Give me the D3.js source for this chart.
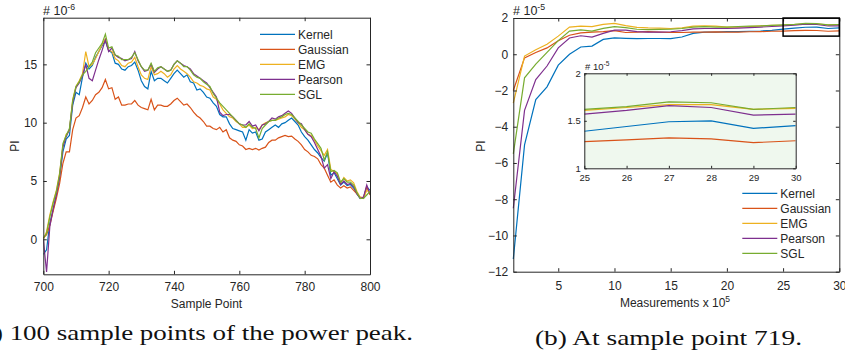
<!DOCTYPE html>
<html>
<head>
<meta charset="utf-8">
<script src="https://cdn.jsdelivr.net/npm/d3@7"></script>
<style>
body { margin: 0; background: #fff; }
text { font-family: "Liberation Sans", Arial, sans-serif; fill: #262626; }
.axis path, .axis line { stroke: #262626; }
.cap { font-family: "Liberation Serif", serif; fill: #111; }
</style>
</head>
<body>
<div id="chart"></div>
<script>
// ---- data ----
var seriesNames = ["Kernel", "Gaussian", "EMG", "Pearson", "SGL"];
var colors = ["#0072BD", "#D95319", "#EDB120", "#7E2F8E", "#77AC30"];

// (a) sample points 700..800, PI in units of 1e-6
var samplePoints = d3.range(700, 801);
var kernelA = [-1.3,-0.9,1.4,2.5,3.8,5.3,7.5,8.6,8.9,11.5,
  12.6,12.4,13.9,15.1,14.6,14.9,15.6,16.1,16.6,17.0,
  16.2,16.0,15.1,15.0,14.6,14.5,14.8,14.9,15.2,14.5,
  13.6,13.1,12.9,14.4,13.6,13.8,13.8,13.6,13.4,13.8,
  14.2,14.5,14.2,13.9,14.1,13.5,13.4,12.8,12.9,12.6,
  12.2,12.1,11.7,11.4,10.7,10.5,10.5,9.9,9.5,9.4,
  9.3,9.2,8.5,9.4,9.1,9.2,8.5,8.6,9.2,9.4,
  9.6,9.8,9.6,9.9,10.0,10.2,10.4,10.1,9.8,9.2,
  8.8,8.5,8.1,7.7,7.4,7.0,6.7,7.4,5.5,5.7,
  5.2,4.65,4.9,4.6,4.7,4.4,3.9,3.5,3.5,4.5,
  4.2];
var gaussianA = [0.1,0.4,1.2,2.4,3.5,4.8,6.5,7.5,7.5,9.4,
  10.4,10.6,11.3,12.2,11.6,11.9,12.4,12.6,13.0,13.7,
  12.9,13.0,12.0,12.2,11.5,11.5,11.6,11.6,11.9,11.5,
  11.3,11.2,11.1,12.0,11.1,11.5,11.5,11.4,11.4,11.6,
  11.9,12.1,11.8,11.5,11.6,11.3,10.9,10.6,10.4,10.1,
  9.7,9.7,9.5,9.4,9.6,9.2,9.4,8.7,8.5,8.4,
  8.1,8.0,7.7,7.8,7.7,7.8,7.65,7.8,7.9,8.3,
  8.5,8.5,8.7,8.8,8.9,8.8,8.85,8.6,8.4,8.1,
  7.7,7.5,7.2,7.1,6.9,6.4,6.1,5.5,4.9,5.1,
  4.65,4.4,4.6,4.4,4.5,4.2,3.9,3.6,3.6,4.5,
  3.8];
var emgA = [0.0,0.65,2.1,3.2,4.2,5.7,8.0,9.0,9.3,12.0,
  13.1,13.6,14.2,16.1,14.8,15.0,15.5,16.1,16.7,17.2,
  16.2,16.1,15.5,15.3,14.9,14.8,15.1,15.2,15.6,14.8,
  14.1,13.8,13.7,14.8,14.1,14.2,14.4,14.2,13.9,14.1,
  14.6,14.9,14.6,14.4,14.2,13.9,13.5,13.4,13.2,13.1,
  12.9,12.8,12.2,12.0,11.6,11.1,10.8,10.5,10.4,10.1,
  9.9,9.6,9.6,9.8,9.5,9.6,9.4,9.8,10.0,10.1,
  10.2,10.2,10.3,10.4,10.5,10.7,10.6,10.3,10.0,9.6,
  9.4,9.0,8.9,8.5,8.0,7.6,7.2,7.7,6.0,5.8,
  5.6,4.8,5.3,5.0,5.1,4.85,4.1,3.6,3.5,4.2,
  4.0];
var pearsonA = [0.0,-2.8,1.1,2.6,3.8,5.4,7.9,8.8,9.4,11.7,
  13.0,13.4,14.0,15.0,13.8,13.6,14.5,15.4,16.2,17.1,
  16.1,16.4,15.8,15.6,15.5,15.3,15.4,15.5,16.1,15.3,
  14.8,14.4,14.5,15.0,14.3,14.6,14.8,14.6,14.4,14.5,
  15.0,15.3,15.1,14.9,14.8,14.6,14.2,14.0,13.8,13.6,
  13.4,13.0,12.6,12.2,10.9,10.6,10.7,10.7,10.5,10.2,
  9.9,9.8,9.8,10.1,9.7,9.8,9.3,9.8,9.9,10.1,
  10.4,10.3,10.5,10.6,10.8,11.0,10.8,10.4,10.0,9.9,
  9.4,9.0,8.8,8.3,7.7,7.1,6.1,6.4,5.2,5.8,
  5.4,4.7,5.0,4.7,4.8,4.5,3.9,3.5,3.6,4.65,
  3.9];
var sglA = [0.1,0.5,1.9,3.1,4.1,5.6,8.2,8.9,9.5,11.9,
  13.1,13.5,14.1,14.4,14.8,15.2,16.0,16.4,16.8,17.6,
  16.4,16.5,15.8,15.7,15.4,15.4,15.4,15.6,16.0,15.4,
  14.8,14.5,14.5,15.1,14.4,14.7,14.8,14.6,14.4,14.5,
  15.0,15.3,15.1,14.8,14.8,14.5,14.1,13.9,13.8,13.5,
  13.3,13.1,12.5,12.1,11.7,11.4,11.1,10.8,10.5,10.2,
  9.9,9.8,9.6,9.9,9.6,9.5,8.7,9.5,9.8,10.1,
  10.2,10.2,10.4,10.5,10.7,10.8,10.7,10.4,10.1,9.8,
  9.5,9.2,9.1,8.6,8.2,7.8,6.8,7.5,5.8,5.9,
  5.7,4.9,5.2,4.9,4.9,4.65,4.0,3.5,3.5,3.8,
  4.1];

// (b) measurements 1..30 (x 10^5), PI in units of 1e-5
var measurements = d3.range(1, 31);
var kernelB = [-11.3,-5.0,-2.5,-1.8,-0.6,0.0,0.4,0.45,0.82,0.9,
  0.88,0.86,0.87,0.87,0.86,0.95,1.15,1.22,1.22,1.25,
  1.25,1.27,1.28,1.32,1.39,1.44,1.49,1.50,1.42,1.45];
var gaussianB = [-2.0,-0.2,0.1,0.35,0.75,1.05,1.18,1.22,1.25,1.3,
  1.2,1.22,1.25,1.22,1.2,1.2,1.22,1.22,1.23,1.22,
  1.22,1.24,1.25,1.27,1.28,1.30,1.32,1.31,1.27,1.29];
var emgB = [-2.7,-0.1,0.25,0.55,1.0,1.5,1.55,1.52,1.65,1.7,
  1.58,1.48,1.45,1.44,1.42,1.45,1.55,1.56,1.55,1.5,
  1.5,1.52,1.56,1.6,1.61,1.64,1.67,1.67,1.62,1.63];
var pearsonB = [-8.5,-3.1,-1.4,-0.65,0.35,0.9,1.02,0.95,1.15,1.33,
  1.33,1.25,1.22,1.22,1.24,1.3,1.4,1.42,1.42,1.42,
  1.44,1.47,1.5,1.53,1.57,1.61,1.66,1.64,1.56,1.57];
var sglB = [-5.5,-1.3,-0.55,0.1,0.75,1.28,1.34,1.28,1.43,1.52,
  1.47,1.38,1.36,1.37,1.38,1.42,1.5,1.52,1.5,1.5,
  1.53,1.55,1.56,1.59,1.62,1.65,1.70,1.69,1.62,1.64];

var xTicksA = [700, 720, 740, 760, 780, 800], yTicksA = [0, 5, 10, 15];
var xTicksB = [5, 10, 15, 20, 25, 30], yTicksB = [-12, -10, -8, -6, -4, -2, 0, 2];
var xTicksIn = [25, 26, 27, 28, 29, 30], yTicksIn = [1, 1.5, 2];

var width = 845, height = 358;
var svg = d3.select("#chart").append("svg")
  .attr("width", width).attr("height", height);

// draws a MATLAB style box with ticks pointing inward on all four sides
function boxAxes(g, x, y, xt, yt, opt) {
  var xr = x.range(), yr = y.range();
  var fmt = d3.format("");
  g.append("g").attr("class", "axis")
    .attr("transform", "translate(0," + yr[0] + ")")
    .call(d3.axisBottom(x).tickValues(xt).tickFormat(fmt).tickSizeInner(-opt.tl).tickSizeOuter(0).tickPadding(opt.padX))
    .call(function(s) { s.selectAll("text").style("font-size", opt.fs + "px").attr("fill", "#262626"); });
  g.append("g").attr("class", "axis")
    .attr("transform", "translate(0," + yr[1] + ")")
    .call(d3.axisTop(x).tickValues(xt).tickFormat("").tickSizeInner(-opt.tl).tickSizeOuter(0));
  g.append("g").attr("class", "axis")
    .attr("transform", "translate(" + xr[0] + ",0)")
    .call(d3.axisLeft(y).tickValues(yt).tickFormat(fmt).tickSizeInner(-opt.tl).tickSizeOuter(0).tickPadding(opt.padY))
    .call(function(s) { s.selectAll("text").style("font-size", opt.fs + "px").attr("fill", "#262626"); });
  g.append("g").attr("class", "axis")
    .attr("transform", "translate(" + xr[1] + ",0)")
    .call(d3.axisRight(y).tickValues(yt).tickFormat("").tickSizeInner(-opt.tl).tickSizeOuter(0));
  g.selectAll(".axis").attr("font-family", null);
  g.selectAll(".domain").attr("stroke", "#262626").attr("stroke-width", 1);
  g.selectAll(".tick line").attr("stroke", "#262626");
}

function exponentLabel(x0, y0, base, exp, fs) {
  var t = svg.append("text").attr("x", x0).attr("y", y0).style("font-size", fs + "px");
  t.append("tspan").text(base);
  t.append("tspan").attr("dy", -fs * 0.4).style("font-size", (fs * 0.7) + "px").text(exp);
}

function legend(x0, y0, names) {
  names.forEach(function(n, i) {
    var yy = y0 + i * 15;
    svg.append("line").attr("x1", x0).attr("x2", x0 + 35)
      .attr("y1", yy).attr("y2", yy).attr("stroke", colors[i]).attr("stroke-width", 1.2);
    svg.append("text").attr("x", x0 + 38).attr("y", yy + 4.3)
      .style("font-size", "12px").text(n);
  });
}

// ---------------- (a) ----------------
var xA = d3.scaleLinear().domain([700, 800]).range([43.3, 370]);
var yA = d3.scaleLinear().domain([-3, 19]).range([274.3, 17.7]);
var gA = svg.append("g");
svg.append("clipPath").attr("id", "clipA").append("rect")
  .attr("x", 43.3).attr("y", 17.7).attr("width", 370 - 43.3).attr("height", 274.3 - 17.7);

var dataA = [kernelA, gaussianA, emgA, pearsonA, sglA];
var lineA = d3.line().x(function(d, i) { return xA(samplePoints[i]); }).y(function(d) { return yA(d); });
gA.append("g").attr("clip-path", "url(#clipA)").selectAll("path")
  .data(dataA).enter().append("path")
  .attr("d", lineA).attr("fill", "none")
  .attr("stroke", function(d, i) { return colors[i]; }).attr("stroke-width", 1.2);

boxAxes(gA, xA, yA, xTicksA, yTicksA, { tl: 3.5, fs: 12, padX: 8.5, padY: 6 });
exponentLabel(43, 15, "# 10", "-6", 12.5);
svg.append("text").attr("x", 206.5).attr("y", 308).attr("text-anchor", "middle")
  .style("font-size", "12px").text("Sample Point");
svg.append("text").attr("transform", "translate(19,146) rotate(-90)").attr("text-anchor", "middle")
  .style("font-size", "12px").text("PI");
legend(260, 34.3, seriesNames);

// ---------------- (b) ----------------
var xB = d3.scaleLinear().domain([1, 30]).range([513.3, 839.3]);
var yB = d3.scaleLinear().domain([-12, 2]).range([271.7, 18]);
var gB = svg.append("g");
var dataB = [kernelB, gaussianB, emgB, pearsonB, sglB];
var lineB = d3.line().x(function(d, i) { return xB(measurements[i]); }).y(function(d) { return yB(d); });
gB.append("g").selectAll("path")
  .data(dataB).enter().append("path")
  .attr("d", lineB).attr("fill", "none")
  .attr("stroke", function(d, i) { return colors[i]; }).attr("stroke-width", 1.2);

boxAxes(gB, xB, yB, xTicksB, yTicksB, { tl: 3.5, fs: 12, padX: 9.5, padY: 5 });
// zoom window marker
gB.append("rect")
  .attr("x", xB(25)).attr("y", yB(2))
  .attr("width", xB(30) - xB(25)).attr("height", yB(1) - yB(2))
  .attr("fill", "none").attr("stroke", "#000").attr("stroke-width", 1.5);

exponentLabel(513, 15, "# 10", "-5", 12.5);
var xl = svg.append("text").attr("x", 675).attr("y", 307).attr("text-anchor", "middle").style("font-size", "12px");
xl.append("tspan").text("Measurements x 10");
xl.append("tspan").attr("dy", -5).style("font-size", "8.5px").text("5");
svg.append("text").attr("transform", "translate(485,146) rotate(-90)").attr("text-anchor", "middle")
  .style("font-size", "12px").text("PI");
legend(742.3, 193.3, seriesNames);

// inset
var xI = d3.scaleLinear().domain([25, 30]).range([584.3, 795.7]);
var yI = d3.scaleLinear().domain([1, 2]).range([168.3, 73.3]);
var gI = svg.append("g");
gI.append("rect").attr("x", 584.3).attr("y", 73.3)
  .attr("width", 795.7 - 584.3).attr("height", 168.3 - 73.3).attr("fill", "#eff8ee");
svg.append("clipPath").attr("id", "clipI").append("rect")
  .attr("x", 584.3).attr("y", 73.3).attr("width", 795.7 - 584.3).attr("height", 168.3 - 73.3);
gI.append("g").attr("clip-path", "url(#clipI)").selectAll("path")
  .data(dataB).enter().append("path")
  .attr("d", function(d) {
    var pts = d.map(function(v, i) { return [measurements[i], v]; }).filter(function(p) { return p[0] >= 25; });
    return d3.line().x(function(p) { return xI(p[0]); }).y(function(p) { return yI(p[1]); })(pts);
  })
  .attr("fill", "none")
  .attr("stroke", function(d, i) { return colors[i]; }).attr("stroke-width", 1.2);
boxAxes(gI, xI, yI, xTicksIn, yTicksIn, { tl: 2.5, fs: 9.5, padX: 5.5, padY: 3.5 });
exponentLabel(585, 69.5, "# 10", "-5", 9.5);

// captions
svg.append("text").attr("class", "cap").attr("x", -27).attr("y", 340)
  .attr("textLength", 440).attr("lengthAdjust", "spacingAndGlyphs")
  .style("font-size", "21px").text("(a) 100 sample points of the power peak.");
svg.append("text").attr("class", "cap").attr("x", 535).attr("y", 345)
  .attr("textLength", 267).attr("lengthAdjust", "spacingAndGlyphs")
  .style("font-size", "21px").text("(b) At sample point 719.");
</script>
</body>
</html>
